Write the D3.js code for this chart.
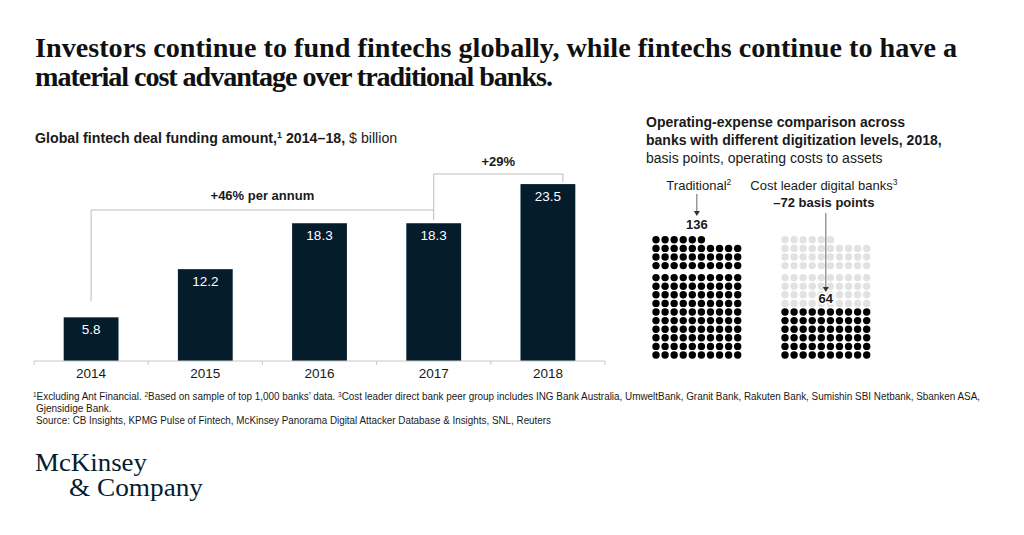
<!DOCTYPE html>
<html>
<head>
<meta charset="utf-8">
<script src="https://cdn.jsdelivr.net/npm/d3@7"></script>
<style>
  body { margin: 0; background: #fff; }
  svg { display: block; }
  text { font-family: "Liberation Sans", Arial, sans-serif; fill: #1a1a1a; }
</style>
</head>
<body>
<div id="chart"></div>
<script>
// ---- data ----
const years = ["2014", "2015", "2016", "2017", "2018"];
const funding = [5.8, 12.2, 18.3, 18.3, 23.5];
const growthLabels = ["+46% per annum", "+29%"];

const opexBanks = ["Traditional", "Cost leader digital banks"];
const opexValues = [136, 64];
const opexDarkDots = [136, 60];   // filled dots as drawn in the picture
const opexDelta = "\u201372 basis points";

const titleLines = [
    "Investors continue to fund fintechs globally, while fintechs continue to have a",
    "material cost advantage over traditional banks."
];
const footnotes = [
    "Excluding Ant Financial. ",
    "Based on sample of top 1,000 banks\u2019 data. ",
    "Cost leader direct bank peer group includes ING Bank Australia, UmweltBank, Granit Bank, Rakuten Bank, Sumishin SBI Netbank, Sbanken ASA,"
];
const footnote2 = "Gjensidige Bank.";
const sourceLine = "Source: CB Insights, KPMG Pulse of Fintech, McKinsey Panorama Digital Attacker Database & Insights, SNL, Reuters";

const width = 1024, height = 535;
const navy = "#051c2c";
const bracketGrey = "#bdbdbd";

const svg = d3.select("#chart").append("svg")
    .attr("width", width)
    .attr("height", height);

// ---- title (serif, fitted to the reference width) ----
const titleWidths = [922, 518];
const title = svg.append("g");
titleLines.forEach((line, i) => {
    title.append("text")
        .attr("x", 35)
        .attr("y", 57 + i * 29)
        .style("font-family", "'Liberation Serif', 'Times New Roman', serif")
        .style("font-weight", "bold")
        .style("font-size", "25px")
        .style("fill", "#111")
        .text(line);
});
const firstW = title.select("text").node().getComputedTextLength();
title.selectAll("text")
    .style("font-size", (25 * titleWidths[0] / firstW) + "px")
    .attr("textLength", (d, i) => titleWidths[i])
    .attr("lengthAdjust", "spacing");

// ---- left chart: funding bars ----
const leftTitle = svg.append("text")
    .attr("x", 35)
    .attr("y", 143)
    .style("font-size", "14.2px");
leftTitle.append("tspan").style("font-weight", "bold").text("Global fintech deal funding amount,");
leftTitle.append("tspan").style("font-weight", "bold").style("font-size", "9px").attr("dy", -5).text("1");
leftTitle.append("tspan").style("font-weight", "bold").attr("dy", 5).text(" 2014\u201318, ");
leftTitle.append("tspan").text("$ billion");

const x = d3.scaleBand()
    .domain(years)
    .range([34, 605])
    .paddingInner(0.52)
    .paddingOuter(0.26);

const y = d3.scaleLinear()
    .domain([0, 25])
    .range([361, 172.8]);

const bars = svg.append("g");
bars.selectAll("rect")
    .data(years)
    .enter().append("rect")
    .attr("x", d => x(d))
    .attr("y", (d, i) => y(funding[i]))
    .attr("width", x.bandwidth())
    .attr("height", (d, i) => y(0) - y(funding[i]))
    .attr("fill", navy);

bars.selectAll("text")
    .data(years)
    .enter().append("text")
    .attr("x", d => x(d) + x.bandwidth() / 2)
    .attr("y", (d, i) => y(funding[i]) + 17)
    .attr("text-anchor", "middle")
    .style("font-size", "13.5px")
    .style("fill", "#fff")
    .text((d, i) => funding[i].toFixed(1));

// axis line + ticks at band edges
const axisG = svg.append("g")
    .attr("transform", `translate(0,${y(0)})`)
    .call(d3.axisBottom(x).tickSize(0).tickPadding(7));
axisG.select(".domain").remove();
axisG.selectAll("text")
    .style("font-size", "13.5px")
    .style("font-family", "'Liberation Sans', Arial, sans-serif")
    .attr("fill", "#222");

const step = x.step();
const edges = years.map(d => x(d) - step * x.paddingInner() / 2)
    .concat([x(years[years.length - 1]) + x.bandwidth() + step * x.paddingInner() / 2]);
axisG.append("line")
    .attr("x1", edges[0]).attr("x2", edges[edges.length - 1])
    .attr("stroke", "#c8c8c8");
axisG.selectAll(".edge")
    .data(edges)
    .enter().append("line")
    .attr("class", "edge")
    .attr("x1", d => d).attr("x2", d => d)
    .attr("y1", 0).attr("y2", 4)
    .attr("stroke", "#c8c8c8");

// growth brackets
const cx = d => x(d) + x.bandwidth() / 2;
const b1Top = 210, b2Top = 174;
const b1 = [cx(years[0]), cx(years[3])];
const b2 = [cx(years[3]), cx(years[4]) + 15];

svg.append("path")
    .attr("d", `M${b1[0]},${y(funding[0]) - 16} V${b1Top} H${b1[1]}`)
    .attr("fill", "none")
    .attr("stroke", bracketGrey);
svg.append("path")
    .attr("d", `M${b2[0]},${y(funding[3]) - 3} V${b2Top} H${b2[1]} V${y(funding[4]) - 2}`)
    .attr("fill", "none")
    .attr("stroke", bracketGrey);

svg.append("text")
    .attr("x", (b1[0] + b1[1]) / 2)
    .attr("y", b1Top - 10)
    .attr("text-anchor", "middle")
    .style("font-size", "13px")
    .style("font-weight", "bold")
    .text(growthLabels[0]);
svg.append("text")
    .attr("x", (b2[0] + b2[1]) / 2)
    .attr("y", b2Top - 8)
    .attr("text-anchor", "middle")
    .style("font-size", "13px")
    .style("font-weight", "bold")
    .text(growthLabels[1]);

// ---- right chart: dot grids ----
const rightTitle = svg.append("g").style("font-size", "14px");
rightTitle.append("text").attr("x", 646).attr("y", 127)
    .style("font-weight", "bold").text("Operating-expense comparison across");
rightTitle.append("text").attr("x", 646).attr("y", 145)
    .style("font-weight", "bold").text("banks with different digitization levels, 2018,");
rightTitle.append("text").attr("x", 646).attr("y", 163)
    .text("basis points, operating costs to assets");

const group = d3.scalePoint().domain(opexBanks).range([656, 785]);
const col = d3.scaleLinear().domain([0, 9]).range([0, 81.7]);
const row = d3.scaleLinear().domain([0, 9]).range([355, 277.6]);
const rowY = r => row(r) - (r >= 10 ? 3.4 : 0);

opexBanks.forEach((bank, g) => {
    const dots = d3.range(opexValues[0]);
    svg.append("g").selectAll("circle")
        .data(dots)
        .enter().append("circle")
        .attr("cx", i => group(bank) + col(i % 10))
        .attr("cy", i => rowY(Math.floor(i / 10)))
        .attr("r", 3.7)
        .attr("fill", i => i < opexDarkDots[g] ? "#000" : "#e2e2e2");
});

const gridMid = g => group(opexBanks[g]) + col(4.5);

// traditional label + arrow
const tradLabel = svg.append("text")
    .attr("x", gridMid(0) + 2)
    .attr("y", 190)
    .attr("text-anchor", "middle")
    .style("font-size", "13px");
tradLabel.append("tspan").text(opexBanks[0]);
tradLabel.append("tspan").style("font-size", "8.5px").attr("dy", -5).text("2");

function arrow(xp, y1, y2) {
    svg.append("line")
        .attr("x1", xp).attr("x2", xp)
        .attr("y1", y1).attr("y2", y2 - 4)
        .attr("stroke", "#666");
    svg.append("path")
        .attr("d", `M${xp - 3},${y2 - 5} L${xp + 3},${y2 - 5} L${xp},${y2} Z`)
        .attr("fill", "#333");
}
arrow(gridMid(0), 194, 216);

svg.append("text")
    .attr("x", gridMid(0))
    .attr("y", 229)
    .attr("text-anchor", "middle")
    .style("font-size", "13px")
    .style("font-weight", "bold")
    .text(opexValues[0]);

// digital label + arrow
const digLabel = svg.append("text")
    .attr("x", gridMid(1) - 2)
    .attr("y", 190)
    .attr("text-anchor", "middle")
    .style("font-size", "13px");
digLabel.append("tspan").text(opexBanks[1]);
digLabel.append("tspan").style("font-size", "8.5px").attr("dy", -5).text("3");

svg.append("text")
    .attr("x", gridMid(1) - 2)
    .attr("y", 207)
    .attr("text-anchor", "middle")
    .style("font-size", "13px")
    .style("font-weight", "bold")
    .text(opexDelta);

arrow(gridMid(1), 213, 292);

svg.append("text")
    .attr("x", gridMid(1))
    .attr("y", 303)
    .attr("text-anchor", "middle")
    .style("font-size", "13px")
    .style("font-weight", "bold")
    .style("stroke", "#fff")
    .style("stroke-width", "3px")
    .style("paint-order", "stroke")
    .text(opexValues[1]);

// ---- footnotes ----
const fnFont = "'Liberation Sans Narrow', 'Liberation Sans', Arial, sans-serif";
const fn = svg.append("text")
    .attr("x", 33)
    .attr("y", 400)
    .style("font-family", fnFont)
    .style("font-size", "10px")
    .attr("textLength", 947)
    .attr("lengthAdjust", "spacingAndGlyphs");
footnotes.forEach((t, i) => {
    fn.append("tspan").style("font-size", "6.5px").attr("dy", -3).text(i + 1);
    fn.append("tspan").attr("dy", 3).text(t);
});
svg.append("text")
    .attr("x", 36).attr("y", 412)
    .style("font-family", fnFont)
    .style("font-size", "10px")
    .text(footnote2);
svg.append("text")
    .attr("x", 36).attr("y", 424)
    .style("font-family", fnFont)
    .style("font-size", "10px")
    .attr("textLength", 515)
    .attr("lengthAdjust", "spacingAndGlyphs")
    .text(sourceLine);

// ---- logo ----
const logoFont = "'Liberation Serif', 'Times New Roman', serif";
svg.append("text")
    .attr("x", 35).attr("y", 471)
    .style("font-family", logoFont)
    .style("font-size", "26px")
    .style("fill", navy)
    .attr("textLength", 112)
    .attr("lengthAdjust", "spacingAndGlyphs")
    .text("McKinsey");
svg.append("text")
    .attr("x", 69).attr("y", 496)
    .style("font-family", logoFont)
    .style("font-size", "26px")
    .style("fill", navy)
    .attr("textLength", 134)
    .attr("lengthAdjust", "spacingAndGlyphs")
    .text("& Company");
</script>
</body>
</html>
